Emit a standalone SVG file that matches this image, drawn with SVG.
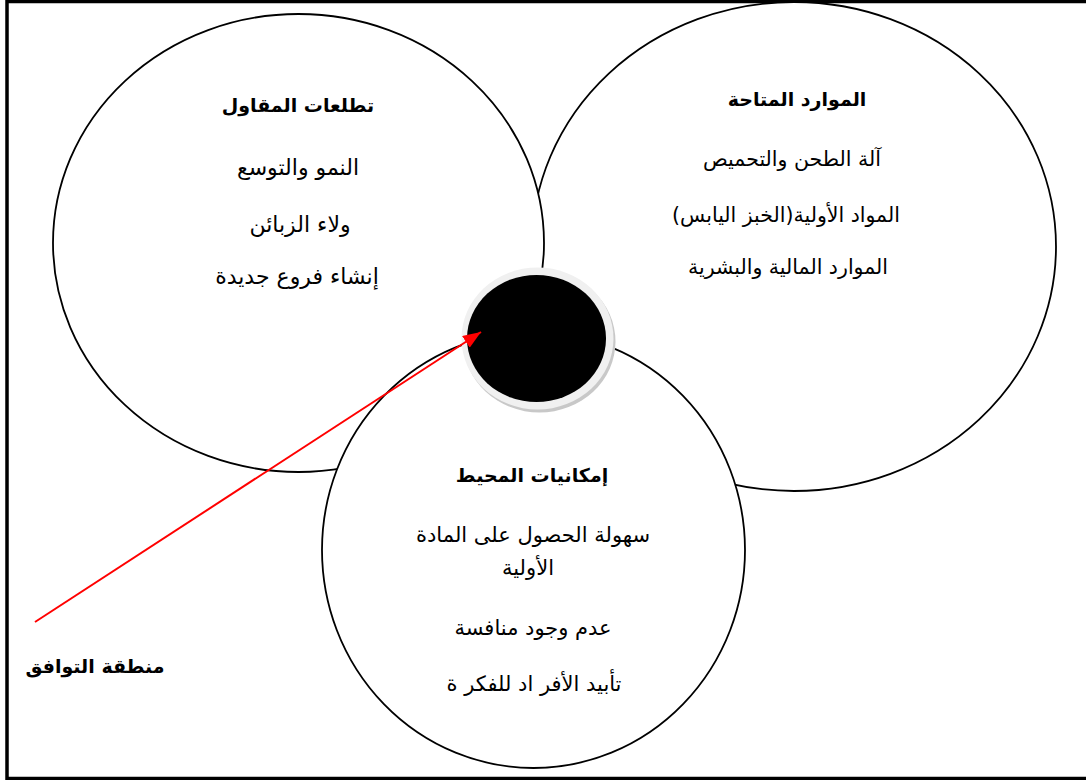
<svg xmlns="http://www.w3.org/2000/svg" width="1086" height="780" viewBox="0 0 1086 780">
<defs>
<style>
.c{fill:#fff;stroke:#000;stroke-width:1.8}
.t{font-family:'DejaVu Sans',sans-serif;font-size:21px;fill:#000;text-anchor:middle;direction:rtl}
.b{font-weight:bold;font-size:19px}
.l{font-size:22px}
.r{font-size:20.5px}
</style>
<marker id="ah" markerUnits="userSpaceOnUse" markerWidth="18" markerHeight="14" refX="18" refY="7" orient="auto">
<path d="M0,0 L18,7 L0,14 z" fill="#ff0000"/>
</marker>
</defs>
<rect x="0" y="0" width="1086" height="780" fill="#fff"/>
<rect x="7" y="1.5" width="1082" height="777" fill="none" stroke="#000" stroke-width="3.5"/>
<g id="resources">
<ellipse class="c" cx="794" cy="246.5" rx="262" ry="244.5"/>
<text class="t b" x="797" y="106">الموارد المتاحة</text>
<text class="t r" x="792" y="166">آلة الطحن والتحميص</text>
<text class="t r" x="786" y="222">المواد الأولية(الخبز اليابس)</text>
<text class="t r" x="788" y="274">الموارد المالية والبشرية</text>
</g>
<g id="aspirations">
<ellipse class="c" cx="298.5" cy="243" rx="245.5" ry="229"/>
<text class="t b" x="298" y="112">تطلعات المقاول</text>
<text class="t l" x="298" y="175">النمو والتوسع</text>
<text class="t l" x="300" y="232">ولاء الزبائن</text>
<text class="t l" x="297" y="284">إنشاء فروع جديدة</text>
</g>
<g id="environment">
<ellipse class="c" cx="533.5" cy="550" rx="211.5" ry="218"/>
<text class="t b" x="532" y="482">إمكانيات المحيط</text>
<text class="t" x="533" y="542">سهولة الحصول على المادة</text>
<text class="t" x="528" y="575">الأولية</text>
<text class="t" x="533" y="635">عدم وجود منافسة</text>
<text class="t" x="534" y="691">تأبيد الأفر اد للفكر ة</text>
</g>
<g id="overlap">
<ellipse cx="539.5" cy="341.5" rx="76" ry="71" fill="#c8c8c8"/>
<ellipse cx="537.5" cy="338.5" rx="76" ry="71" fill="#f0f0f0"/>
<ellipse cx="536.5" cy="338.5" rx="69.5" ry="63.5" fill="#000"/>
</g>
<g id="connectors">
<line x1="35" y1="622" x2="481" y2="332" stroke="#ff0000" stroke-width="2" marker-end="url(#ah)"/>
</g>
<g id="label">
<text class="t b" x="95" y="673">منطقة التوافق</text>
</g>
</svg>
